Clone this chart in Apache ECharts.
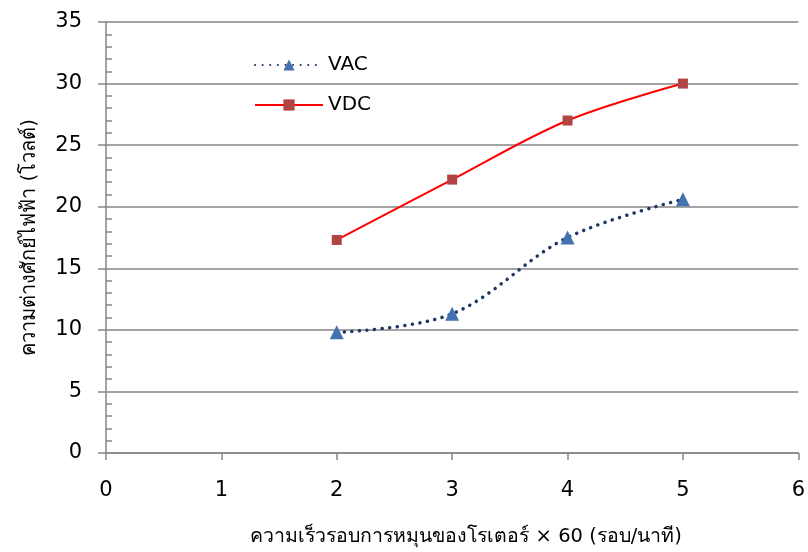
<!DOCTYPE html>
<html>
<head>
<meta charset="utf-8">
<script src="https://cdn.jsdelivr.net/npm/echarts@6/dist/echarts.min.js"></script>
<style>
  html, body { margin: 0; padding: 0; background: #fff; }
  #chart { width: 808px; height: 552px; }
</style>
</head>
<body>
<div id="chart"></div>
<script>
// Rotor speed (x 60 rpm) and measured voltages
const speeds = [2, 3, 4, 5];
const vac = [9.8, 11.3, 17.5, 20.6];
const vdc = [17.3, 22.2, 27.0, 30.0];

const xTitle = 'ความเร็วรอบการหมุนของโรเตอร์ × 60 (รอบ/นาที)';
const yTitle = 'ความต่างศักย์ไฟฟ้า (โวลต์)';

const axisGray = '#868686';
const fontFamily = '"DejaVu Sans", "Noto Sans", sans-serif';

const pairs = (ys) => speeds.map((x, i) => [x, ys[i]]);

const chart = echarts.init(document.getElementById('chart'), null, { renderer: 'canvas' });
chart.setOption({
  animation: false,
  backgroundColor: '#ffffff',
  textStyle: { fontFamily: fontFamily },
  grid: { left: 106, right: 5, top: 22, bottom: 93, containLabel: false },
  legend: {
    orient: 'vertical',
    left: 249,
    top: 50,
    itemWidth: 68,
    itemHeight: 14,
    itemGap: 20,
    textStyle: { fontSize: 20, color: '#000', fontFamily: fontFamily },
    data: ['VAC', 'VDC']
  },
  xAxis: {
    type: 'value',
    min: 0, max: 6, interval: 1,
    name: xTitle,
    nameLocation: 'middle',
    nameGap: 74,
    nameTextStyle: { fontSize: 19.5, color: '#000', fontFamily: fontFamily, padding: [0, 0, 0, 28] },
    axisLine: { show: true, lineStyle: { color: axisGray, width: 1.5 } },
    axisTick: { show: true, length: 7, lineStyle: { color: axisGray, width: 1.5 } },
    axisLabel: { fontSize: 21, color: '#000', margin: 27, fontFamily: fontFamily },
    splitLine: { show: false }
  },
  yAxis: [{
    type: 'value',
    min: 0, max: 35, interval: 5,
    name: yTitle,
    nameLocation: 'middle',
    nameGap: 66,
    nameRotate: 90,
    nameTextStyle: { fontSize: 20, color: '#000', fontFamily: fontFamily },
    axisLine: { show: true, lineStyle: { color: axisGray, width: 1.5 } },
    axisTick: { show: true, length: 8, lineStyle: { color: axisGray, width: 1.5 } },
    axisLabel: { fontSize: 21, color: '#000', margin: 24, fontFamily: fontFamily },
    splitLine: { show: true, lineStyle: { color: axisGray, width: 1.5 } }
  }, {
    // overlay axis carrying the inward minor ticks
    type: 'value',
    position: 'left',
    min: 0, max: 35, interval: 5,
    axisLine: { show: false },
    axisTick: { show: false, inside: true },
    minorTick: { show: true, splitNumber: 5, length: 6, lineStyle: { color: axisGray, width: 1.5 } },
    axisLabel: { show: false },
    splitLine: { show: false }
  }],
  series: [{
    name: 'VAC',
    type: 'line',
    data: pairs(vac),
    smooth: 0.35,
    symbol: 'triangle',
    symbolSize: 14,
    itemStyle: { color: '#4472B0' },
    lineStyle: { color: '#1F3864', width: 3.5, type: [0.1, 7.5], cap: 'round' },
    z: 3
  }, {
    name: 'VDC',
    type: 'line',
    data: pairs(vdc),
    smooth: 0.35,
    symbol: 'rect',
    symbolSize: 10,
    itemStyle: { color: '#B04543' },
    lineStyle: { color: '#FF0000', width: 2 },
    z: 3
  }]
});
</script>
</body>
</html>
